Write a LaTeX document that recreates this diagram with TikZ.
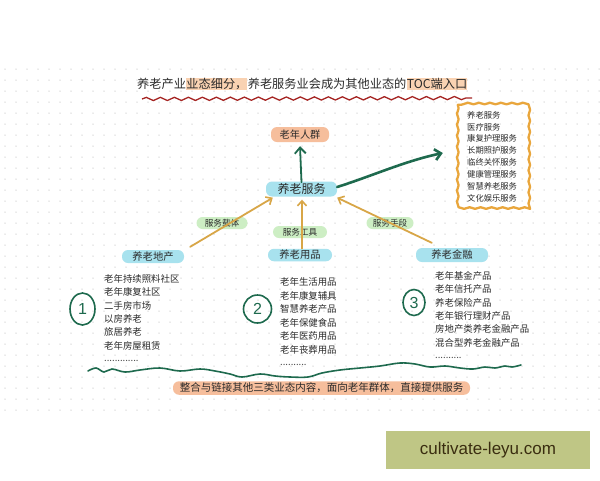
\documentclass[tikz,border=0pt]{standalone}
\usepackage{fontspec}
\newfontfamily\cjk{Noto Sans CJK SC}
\newfontfamily\wmfont{Liberation Sans}
\usetikzlibrary{arrows.meta,decorations.pathmorphing,shapes.geometric}
\definecolor{txt}{HTML}{2A2A2A}
\definecolor{dotc}{HTML}{D6D6D6}
\definecolor{hlc}{HTML}{F9D2B2}
\definecolor{redw}{HTML}{A52422}
\definecolor{orangep}{HTML}{F6BE9C}
\definecolor{bluep}{HTML}{A8E2EE}
\definecolor{greenp}{HTML}{CDEEC4}
\definecolor{gold}{HTML}{D8A647}
\definecolor{dgreen}{HTML}{1E6A4E}
\definecolor{boxc}{HTML}{E9A63C}
\definecolor{wmc}{HTML}{BFC685}
\definecolor{wmt}{HTML}{3A2D10}
\begin{document}
\begin{tikzpicture}[x=1pt,y=-1pt,
  every node/.style={font=\cjk, text=txt, inner sep=0pt},
  ttl/.style={font=\cjk\fontsize{12.2}{14}\selectfont, text=txt, anchor=base west},
  hl/.style={fill=hlc, inner ysep=0.6pt},
  pill/.style={rounded corners=6pt},
  bpill/.style={pill, fill=bluep, font=\cjk\fontsize{10.3}{12}\selectfont},
  gpill/.style={pill, fill=greenp, minimum width=51pt, minimum height=12pt, font=\cjk\fontsize{8.6}{10}\selectfont},
  item/.style={font=\cjk\fontsize{9.4}{11}\selectfont, anchor=west},
  sitem/.style={font=\cjk\fontsize{8.3}{10}\selectfont, anchor=west},
  dotsn/.style={font=\cjk\fontsize{9.5}{10}\selectfont, text=black!70, anchor=west},
  circ/.style={ellipse, draw=dgreen, line width=1.6pt, text=dgreen, font=\wmfont\fontsize{16}{16}\selectfont},
  garrow/.style={draw=gold, line width=1.8pt, line cap=round, -{Straight Barb[length=5pt,width=9pt,line width=1.6pt]}},
  darrow/.style={draw=dgreen, line cap=round, -{Straight Barb[length=6pt,width=11pt]}},
  boxline/.style={draw=boxc, line width=2.3pt, line join=round, line cap=round, decorate, decoration={snake, segment length=11pt, amplitude=0.8pt}}
]
\useasboundingbox (0,0) rectangle (600,480);
\fill[white] (0,0) rectangle (600,480);
% dotted grid
\foreach \i in {0,...,54} \foreach \j in {0,...,31}
  \fill[dotc] (5+\i*11, 69+\j*11) circle[radius=0.75pt];

% title
\node[ttl] (t1) at (137,88.5) {养老产业};
\node[ttl, hl] (t2) at (t1.base east) {业态细分，};
\node[ttl] (t3) at (t2.base east) {养老服务业会成为其他业态的};
\node[ttl, hl] (t4) at (t3.base east) {TOC端入口};
\draw[redw, line width=1.3pt, decorate, decoration={snake, segment length=14pt, amplitude=1.6pt}] (142,99) -- (472,98);

% top nodes
\node[pill, fill=orangep, minimum width=58pt, minimum height=15pt, font=\cjk\fontsize{10.2}{12}\selectfont] (old) at (300,134.5) {老年人群};
\node[pill, fill=bluep, minimum width=71pt, minimum height=15pt, font=\cjk\fontsize{12}{14}\selectfont] (svc) at (301.5,189) {养老服务};

% service box
\node[minimum width=70pt, minimum height=102pt] (box) at (493,156) {};
\draw[boxline] (box.north west) rectangle (box.south east);
\foreach [count=\i] \t in {养老服务,医疗服务,康复护理服务,长期照护服务,临终关怀服务,健康管理服务,智慧养老服务,文化娱乐服务}
  \node[sitem] (s\i) at (467,{115+(\i-1)*11.86}) {\t};

% three sectors
\node[bpill, minimum width=62pt, minimum height=13pt] (dc) at (153,256.5) {养老地产};
\node[bpill, minimum width=64pt, minimum height=12.5pt] (yp) at (300,255) {养老用品};
\node[bpill, minimum width=72pt, minimum height=14pt] (jr) at (452,255) {养老金融};

% labels
\node[gpill] (l1) at (222,223) {服务载体};
\node[gpill, minimum width=54pt] (l2) at (300,232) {服务工具};
\node[gpill, minimum width=47pt] (l3) at (390,223) {服务手段};

% arrows
\draw[garrow] ([xshift=6pt,yshift=3pt]dc.north east) -- ([xshift=7pt,yshift=-1pt]svc.south west);
\draw[garrow] ([xshift=2pt]yp.north) -- ([xshift=0.5pt,yshift=-3pt]svc.south);
\draw[garrow] ([xshift=16pt,yshift=5pt]jr.north west) -- ([yshift=-1pt]svc.south east);
\draw[darrow, line width=1.8pt] ([yshift=-1pt]svc.north) -- ([yshift=-4pt]old.south);
\draw[darrow, line width=2.6pt] ([yshift=2pt]svc.east) .. controls (372,176) and (405,161) .. ([xshift=-15pt,yshift=3pt]box.west);

% lists
\foreach [count=\i] \t in {老年持续照料社区,老年康复社区,二手房市场,以房养老,旅居养老,老年房屋租赁}
  \node[item] (a\i) at (104,{279+(\i-1)*13.3}) {\t};
\node[dotsn] (a7) at (104,361) {.............};
\foreach [count=\i] \t in {老年生活用品,老年康复辅具,智慧养老产品,老年保健食品,老年医药用品,老年丧葬用品}
  \node[item] (b\i) at (280,{282+(\i-1)*13.6}) {\t};
\node[dotsn] (b7) at (280,365) {..........};
\foreach [count=\i] \t in {老年基金产品,老年信托产品,养老保险产品,老年银行理财产品,房地产类养老金融产品,混合型养老金融产品}
  \node[item] (c\i) at (435,{276+(\i-1)*13.3}) {\t};
\node[dotsn] (c7) at (435,358) {..........};

% circled numbers
\node[circ, minimum width=25pt, minimum height=32pt] (n1) at (82.5,309) {1};
\node[circ, minimum width=28pt, minimum height=28pt] (n2) at (257.5,309) {2};
\node[circ, minimum width=22pt, minimum height=26pt] (n3) at (414,302.5) {3};

% green wavy line
\draw[dgreen, line width=1.6pt, line cap=round] plot[smooth, tension=0.6] coordinates {(88,371) (96,368) (104,372) (112,369) (125,372) (140,370) (160,368) (180,371) (200,369) (215,371) (230,374) (242,377) (260,374) (275,376) (290,377) (308,377) (322,373) (340,370) (360,368) (380,366) (400,363) (415,364) (430,367) (445,366) (460,368) (473,369) (485,367) (495,368) (505,366) (512,367) (521,365)};

% bottom pill
\node[pill, fill=orangep, minimum width=297pt, minimum height=13.5pt, font=\cjk\fontsize{10.5}{12}\selectfont] (bot) at (321.5,388) {整合与链接其他三类业态内容，面向老年群体，直接提供服务};

% watermark
\node[fill=wmc, minimum width=204pt, minimum height=38pt, font=\wmfont\fontsize{17}{17}\selectfont, text=wmt] (wm) at (488,450) {cultivate-leyu.com};
\end{tikzpicture}
\end{document}
